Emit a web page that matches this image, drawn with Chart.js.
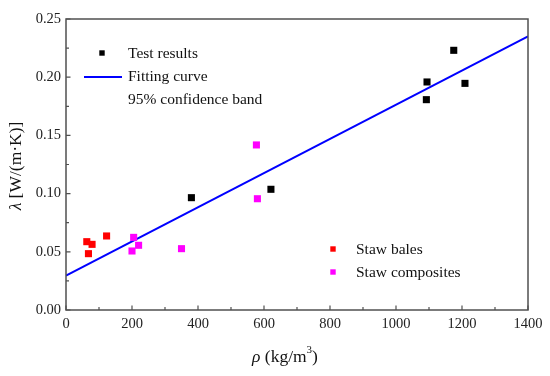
<!DOCTYPE html>
<html><head><meta charset="utf-8">
<script src="https://cdn.jsdelivr.net/npm/chart.js@4"></script>
<style>html,body{margin:0;padding:0;background:#fff}</style>
</head><body>
<canvas id="c" width="550" height="376"></canvas>
<script>
const testX=[380,621,1094,1092,1175,1209];
const testY=[0.0965,0.1037,0.1959,0.1807,0.2231,0.1947];
const balesX=[63,79,68,123];
const balesY=[0.0587,0.0564,0.0484,0.0636];
const compX=[205,220,200,350,577,580];
const compY=[0.0624,0.0556,0.0507,0.0527,0.1418,0.0956];
const fitX=[0,1400];
const fitY=[0.0295,0.2351];
const xTickLabels=["0","200","400","600","800","1000","1200","1400"];
const yTickLabels=["0.00","0.05","0.10","0.15","0.20","0.25"];
const legendTop=["Test results","Fitting curve","95% confidence band"];
const legendBottom=["Staw bales","Staw composites"];

const FONT='"Liberation Serif", "DejaVu Serif", serif';
const pts=(xs,ys)=>xs.map((x,i)=>({x:x,y:ys[i]}));

const framePlugin={
  id:'frame',
  afterDraw(chart){
    const {ctx,chartArea:a,scales:{x,y}}=chart;
    ctx.save();
    ctx.strokeStyle='#505050';
    ctx.lineWidth=1.5;
    ctx.strokeRect(a.left,a.top,a.right-a.left,a.bottom-a.top);
    ctx.lineWidth=1.2;
    ctx.beginPath();
    for(let v=0;v<=1400;v+=100){
      const px=x.getPixelForValue(v);
      const len=(v%200===0)?4.5:3;
      ctx.moveTo(px,a.bottom);ctx.lineTo(px,a.bottom-len);
    }
    for(let i=0;i<=10;i++){
      const v=i*0.025;
      const py=y.getPixelForValue(v);
      const len=(i%2===0)?4.5:3;
      ctx.moveTo(a.left,py);ctx.lineTo(a.left+len,py);
    }
    ctx.stroke();
    // top legend
    ctx.fillStyle='#000';
    ctx.fillRect(102-2.7,53-2.7,5.4,5.4);
    ctx.strokeStyle='#0000ff';ctx.lineWidth=2;
    ctx.beginPath();ctx.moveTo(84,77);ctx.lineTo(122,77);ctx.stroke();
    ctx.font='15.5px '+FONT;
    ctx.textBaseline='middle';ctx.textAlign='left';
    ctx.fillStyle='#111';
    ctx.fillText(legendTop[0],128,54);
    ctx.fillText(legendTop[1],128,77);
    ctx.fillText(legendTop[2],128,100);
    // bottom legend
    ctx.fillStyle='#ff0000';
    ctx.fillRect(333-2.7,249-2.7,5.4,5.4);
    ctx.fillStyle='#ff00ff';
    ctx.fillRect(333-2.7,272-2.7,5.4,5.4);
    ctx.fillStyle='#111';
    ctx.fillText(legendBottom[0],356,250);
    ctx.fillText(legendBottom[1],356,273);
    // x title
    ctx.textBaseline='alphabetic';
    const xt1='ρ', xt2=' (kg/m', xt3='3', xt4=')';
    ctx.font='italic 17.5px '+FONT; const w1=ctx.measureText(xt1).width;
    ctx.font='17.5px '+FONT; const w2=ctx.measureText(xt2).width;
    ctx.font='11px '+FONT; const w3=ctx.measureText(xt3).width;
    ctx.font='17.5px '+FONT; const w4=ctx.measureText(xt4).width;
    let sx=285-(w1+w2+w3+w4)/2, by=362;
    ctx.font='italic 17.5px '+FONT; ctx.fillText(xt1,sx,by); sx+=w1;
    ctx.font='17.5px '+FONT; ctx.fillText(xt2,sx,by); sx+=w2;
    ctx.font='11px '+FONT; ctx.fillText(xt3,sx,by-9); sx+=w3;
    ctx.font='17.5px '+FONT; ctx.fillText(xt4,sx,by);
    // y title
    ctx.translate(21,166);ctx.rotate(-Math.PI/2);
    const yt1='λ', yt2=' [W/(m·K)]';
    ctx.font='italic 17.5px '+FONT; const v1=ctx.measureText(yt1).width;
    ctx.font='17.5px '+FONT; const v2=ctx.measureText(yt2).width;
    let sy=-(v1+v2)/2;
    ctx.font='italic 17.5px '+FONT; ctx.fillText(yt1,sy,0); sy+=v1;
    ctx.font='17.5px '+FONT; ctx.fillText(yt2,sy,0);
    ctx.restore();
  }
};

new Chart(document.getElementById('c'),{
  type:'scatter',
  data:{datasets:[
    {label:'Fitting curve',data:pts(fitX,fitY),showLine:true,borderColor:'#0000ff',borderWidth:2,pointRadius:0,fill:false,order:5},
    {label:'Test results',data:pts(testX,testY),pointStyle:'rect',pointRadius:5,backgroundColor:'#000',borderColor:'#000',borderWidth:0,order:1},
    {label:'Staw bales',data:pts(balesX,balesY),pointStyle:'rect',pointRadius:5,backgroundColor:'#ff0000',borderColor:'#ff0000',borderWidth:0,order:1},
    {label:'Staw composites',data:pts(compX,compY),pointStyle:'rect',pointRadius:5,backgroundColor:'#ff00ff',borderColor:'#ff00ff',borderWidth:0,order:1}
  ]},
  options:{
    responsive:false,animation:false,
    layout:{padding:{top:19,right:22,left:0,bottom:0}},
    plugins:{legend:{display:false},tooltip:{enabled:false}},
    scales:{
      x:{type:'linear',min:0,max:1400,
        afterBuildTicks(s){s.ticks=xTickLabels.map(t=>({value:Number(t)}));},
        afterFit(s){s.height=66;},
        grid:{display:false,drawTicks:false,tickLength:0},border:{display:false},
        ticks:{padding:5,color:'#222',font:{family:FONT,size:14.5},callback:(v,i)=>xTickLabels[i]}},
      y:{type:'linear',min:0,max:0.25,
        afterBuildTicks(s){s.ticks=yTickLabels.map(t=>({value:Number(t)}));},
        afterFit(s){s.width=66;},
        grid:{display:false,drawTicks:false,tickLength:0},border:{display:false},
        ticks:{padding:5,color:'#222',font:{family:FONT,size:14.5},callback:(v,i)=>yTickLabels[i]}}
    }
  },
  plugins:[framePlugin]
});
</script>
</body></html>
